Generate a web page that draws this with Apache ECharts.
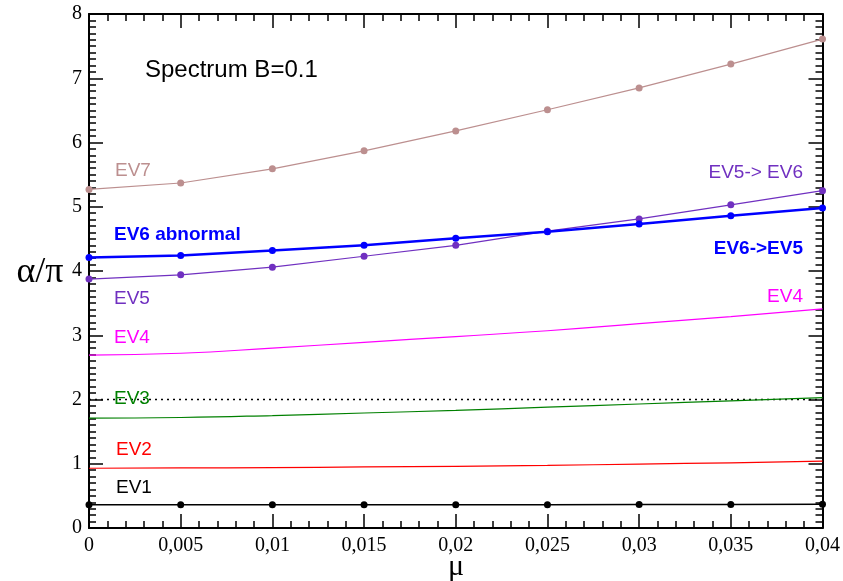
<!DOCTYPE html>
<html>
<head>
<meta charset="utf-8">
<script src="https://cdn.jsdelivr.net/npm/echarts@6/dist/echarts.min.js"></script>
<style>
html, body { margin: 0; padding: 0; background: #fff; }
#chart { width: 843px; height: 581px; }
</style>
</head>
<body>
<div id="chart"></div>
<script>
// mu values (x)
var mu = [0, 0.005, 0.01, 0.015, 0.02, 0.025, 0.03, 0.035, 0.04];
var ev1 = [0.36, 0.36, 0.36, 0.36, 0.36, 0.36, 0.365, 0.365, 0.37];
var ev2 = [0.93, 0.935, 0.94, 0.95, 0.96, 0.975, 0.995, 1.015, 1.04];
var ev3 = [1.71, 1.72, 1.75, 1.79, 1.83, 1.88, 1.93, 1.98, 2.03];
var ev4 = [2.69, 2.72, 2.80, 2.89, 2.98, 3.07, 3.18, 3.29, 3.41];
var ev5 = [3.875, 3.94, 4.06, 4.23, 4.40, 4.62, 4.81, 5.03, 5.25];
var ev6 = [4.21, 4.24, 4.32, 4.40, 4.51, 4.61, 4.73, 4.86, 4.98];
var ev7 = [5.27, 5.37, 5.59, 5.87, 6.18, 6.51, 6.85, 7.22, 7.61];
var refX = [0, 0.04];
var refY = [2, 2];

var yTicks = ['0', '1', '2', '3', '4', '5', '6', '7', '8'];

function pairs(xs, ys) {
    var out = [];
    for (var i = 0; i < xs.length; i++) {
        out.push([xs[i], ys[i]]);
    }
    return out;
}

var serif = '"Liberation Serif", "DejaVu Serif", serif';
var sans = '"Liberation Sans", Arial, sans-serif';

function xAxisCfg(pos, showLabel) {
    return {
        type: 'value',
        position: pos,
        min: 0,
        max: 0.04,
        interval: 0.005,
        axisLine: { show: true, onZero: false, lineStyle: { color: '#000', width: 2 } },
        axisTick: { show: true, inside: true, length: 14, lineStyle: { color: '#000', width: 1.5 } },
        minorTick: { show: true, splitNumber: 5, length: 7, lineStyle: { color: '#000', width: 1.5 } },
        splitLine: { show: false },
        axisLabel: {
            show: showLabel,
            margin: 8,
            color: '#000',
            fontFamily: serif,
            fontSize: 20,
            formatter: function (v) {
                return String(+v.toFixed(3)).replace('.', ',');
            }
        }
    };
}

function yAxisCfg(pos, showLabel) {
    return {
        type: 'value',
        position: pos,
        min: 0,
        max: 8,
        interval: 1,
        axisLine: { show: true, onZero: false, lineStyle: { color: '#000', width: 2 } },
        axisTick: { show: true, inside: true, length: 14, lineStyle: { color: '#000', width: 1.5 } },
        minorTick: { show: true, splitNumber: 10, length: 7, lineStyle: { color: '#000', width: 1.5 } },
        splitLine: { show: false },
        axisLabel: {
            show: showLabel,
            margin: 7,
            color: '#000',
            fontFamily: serif,
            fontSize: 20,
            formatter: function (v) {
                return yTicks[Math.round(v)];
            }
        }
    };
}

function lineSeries(name, ys, color, width, dots) {
    return {
        name: name,
        type: 'line',
        data: pairs(mu, ys),
        clip: false,
        smooth: !dots,
        showSymbol: dots,
        symbol: 'circle',
        symbolSize: 7,
        itemStyle: { color: color },
        lineStyle: { color: color, width: width },
        z: 3
    };
}

function label(text, x, y, color, opts) {
    opts = opts || {};
    return {
        type: 'text',
        z: 10,
        style: {
            text: text,
            x: x,
            y: y,
            fill: color,
            font: (opts.bold ? 'bold ' : '') + (opts.size || 19) + 'px ' + (opts.family || sans),
            textAlign: opts.align || 'left',
            textVerticalAlign: 'middle'
        }
    };
}

var option = {
    backgroundColor: '#fff',
    animation: false,
    grid: { left: 89, right: 19, top: 14, bottom: 53 },
    xAxis: [xAxisCfg('bottom', true), xAxisCfg('top', false)],
    yAxis: [yAxisCfg('left', true), yAxisCfg('right', false)],
    series: [
        {
            name: 'ref',
            type: 'line',
            data: pairs(refX, refY),
            showSymbol: false,
            lineStyle: { color: '#000', width: 1.5, type: [2, 4] },
            z: 2
        },
        lineSeries('EV1', ev1, '#000000', 1.5, true),
        lineSeries('EV2', ev2, '#ff0000', 1.2, false),
        lineSeries('EV3', ev3, '#008000', 1.2, false),
        lineSeries('EV4', ev4, '#ff00ff', 1.2, false),
        lineSeries('EV5', ev5, '#7030c0', 1.2, true),
        lineSeries('EV6', ev6, '#0000ff', 2.5, true),
        lineSeries('EV7', ev7, '#bc8f8f', 1.2, true)
    ],
    graphic: [
        label('Spectrum B=0.1', 145, 70, '#000', { size: 24 }),
        label('EV7', 115, 171, '#bc8f8f'),
        label('EV6 abnormal', 114, 235, '#0000ff', { bold: true }),
        label('EV5', 114, 299, '#7030c0'),
        label('EV4', 114, 338, '#ff00ff'),
        label('EV3', 114, 399, '#008000'),
        label('EV2', 116, 450, '#ff0000'),
        label('EV1', 116, 488, '#000'),
        label('EV5-> EV6', 803, 173, '#7030c0', { align: 'right' }),
        label('EV6->EV5', 803, 249, '#0000ff', { align: 'right', bold: true }),
        label('EV4', 803, 297, '#ff00ff', { align: 'right' }),
        label('\u03b1/\u03c0', 40, 273, '#000', { align: 'center', size: 36, family: serif }),
        label('\u03bc', 456, 567, '#000', { align: 'center', size: 30, family: serif })
    ]
};

var chart = echarts.init(document.getElementById('chart'));
chart.setOption(option);
</script>
</body>
</html>
